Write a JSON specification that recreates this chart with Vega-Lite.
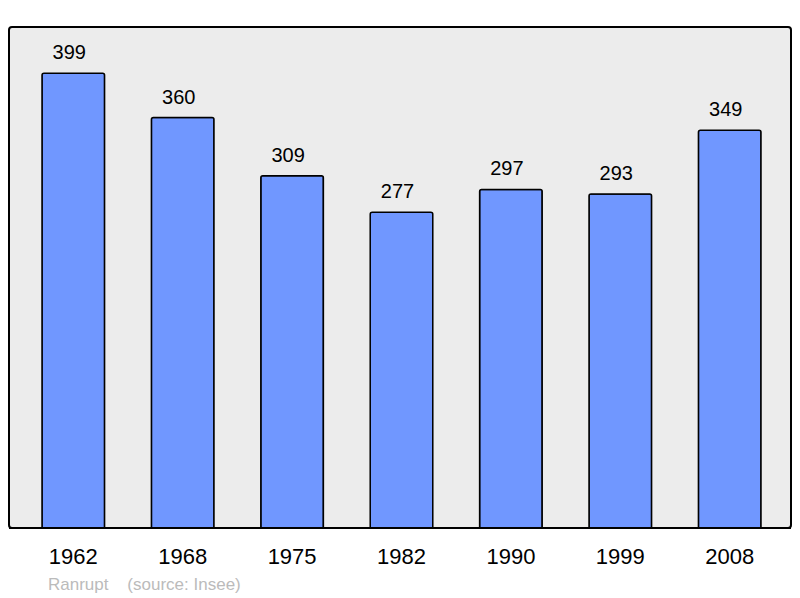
{
  "$schema": "https://vega.github.io/schema/vega-lite/v6.json",
  "autosize": "none",
  "width": 782,
  "height": 501,
  "padding": {"left": 9, "top": 27, "right": 9, "bottom": 70},
  "background": "white",
  "config": {
    "font": "Liberation Sans",
    "view": {"fill": "#ececec", "stroke": "black", "strokeWidth": 2, "cornerRadius": 3}
  },
  "title": {
    "text": "Ranrupt\u00a0\u00a0\u00a0\u00a0(source: Insee)",
    "orient": "bottom",
    "anchor": "start",
    "dx": 40,
    "offset": 10,
    "fontSize": 17,
    "fontWeight": "normal",
    "color": "#bbbbbb"
  },
  "data": {
    "values": [
      {"year": "1962", "pop": 399},
      {"year": "1968", "pop": 360},
      {"year": "1975", "pop": 309},
      {"year": "1982", "pop": 277},
      {"year": "1990", "pop": 297},
      {"year": "1999", "pop": 293},
      {"year": "2008", "pop": 349}
    ]
  },
  "encoding": {
    "x": {
      "field": "year",
      "type": "nominal",
      "sort": null,
      "scale": {"range": [33, 752], "paddingInner": 0.428, "paddingOuter": 0},
      "axis": {
        "title": null,
        "labelAngle": 0,
        "domain": false,
        "ticks": false,
        "labelFontSize": 22,
        "labelColor": "black",
        "labelPadding": 18
      }
    },
    "y": {
      "field": "pop",
      "type": "quantitative",
      "scale": {"domain": [0, 439.5]},
      "axis": null
    }
  },
  "layer": [
    {
      "mark": {"type": "bar", "fill": "#7097ff", "stroke": "black", "strokeWidth": 1.5, "cornerRadiusTopLeft": 2, "cornerRadiusTopRight": 2}
    },
    {
      "mark": {"type": "text", "baseline": "alphabetic", "dy": -14, "dx": -4, "fontSize": 20, "color": "black"},
      "encoding": {"text": {"field": "pop", "type": "quantitative"}}
    },
    {
      "mark": {"type": "rule", "color": "black", "strokeWidth": 2},
      "encoding": {"y": {"datum": 0}, "x": null}
    }
  ]
}
